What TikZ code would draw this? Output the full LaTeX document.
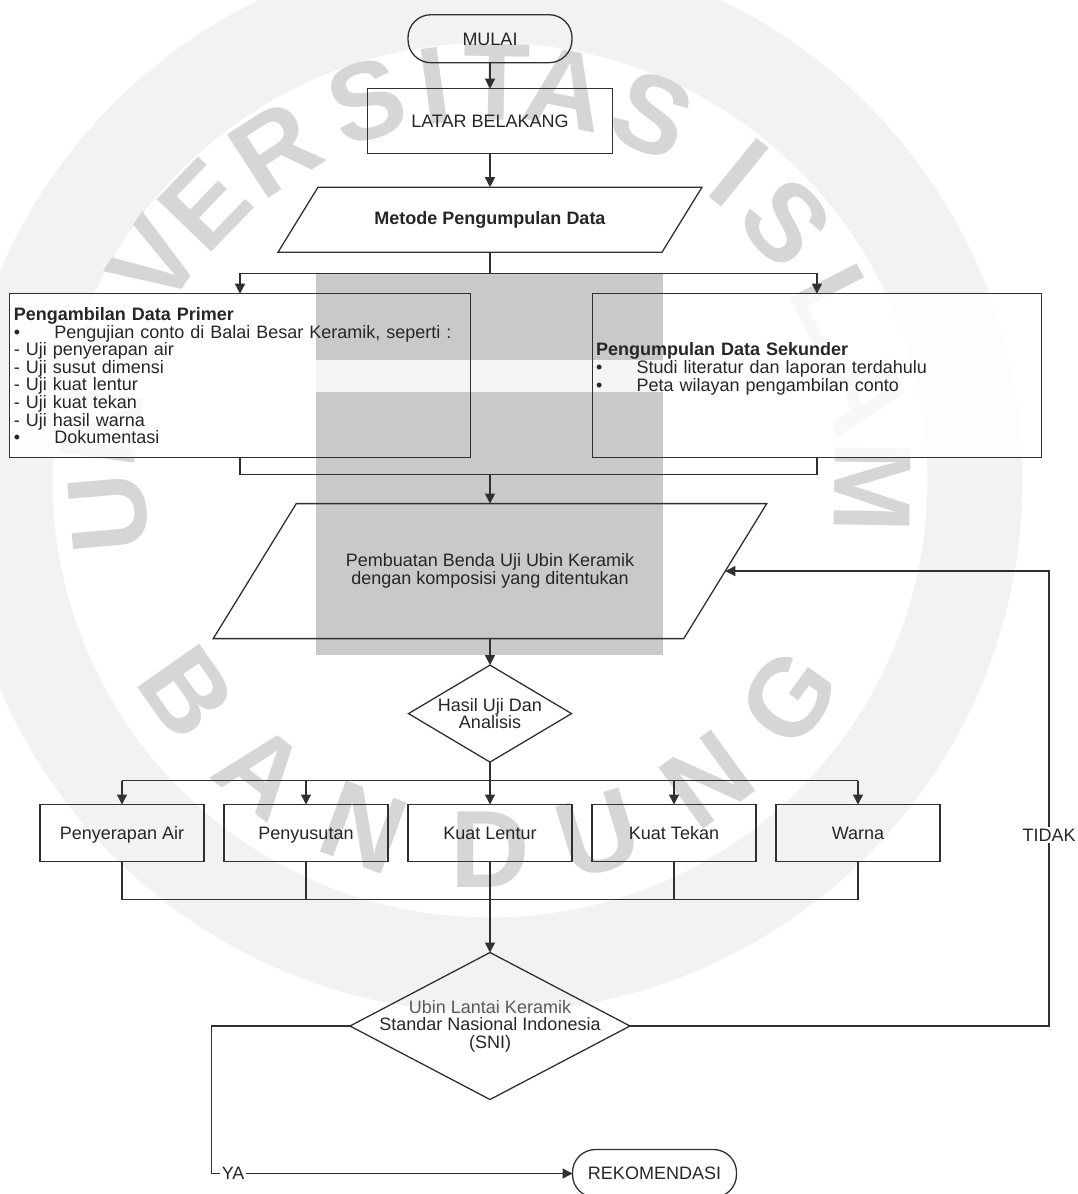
\documentclass[tikz,border=0pt]{standalone}
\usepackage{fontspec}
\setmainfont{Liberation Sans}
\usetikzlibrary{arrows.meta,positioning,shapes.geometric,backgrounds}

\definecolor{garis}{HTML}{303030}
\definecolor{tulisan}{HTML}{262626}
\definecolor{redup}{HTML}{5A5A5A}
\definecolor{blok}{HTML}{C9C9C9}
\definecolor{tanda}{HTML}{D6D6D6}
\definecolor{cincin}{HTML}{F2F2F2}

\begin{document}
\begin{tikzpicture}[
  x=1pt, y=-1pt,
  font=\fontsize{18}{17.6}\selectfont,
  text=tulisan,
  box/.style={draw=garis, line width=1.3pt, outer sep=0pt, align=center, minimum width=164pt, minimum height=57pt, text height=12.9pt, text depth=0pt},
  terminal/.style={draw=garis, line width=1.3pt, outer sep=0pt, rounded corners=23pt, minimum width=164pt, minimum height=48pt, text height=12.9pt, text depth=0pt},
  ioshape/.style={outer sep=0pt, align=center},
  decision/.style={draw=garis, line width=1.3pt, outer sep=0pt, diamond, inner sep=0pt},
  infobox/.style={draw=garis, line width=1.3pt, outer sep=0pt, align=left, minimum height=164pt, inner xsep=4pt},
  lbl/.style={fill=white, inner sep=1.5pt},
  wmark/.style={text=tanda, font=\fontsize{110}{110}\selectfont\bfseries},
  arrow/.style={-{Triangle[length=10pt,width=10pt]}, line width=1.3pt, draw=garis},
  conn/.style={line width=1.3pt, draw=garis}
]
\useasboundingbox (0,0) rectangle (1077,1194);

% alur utama
\node[terminal] (mulai) at (490,38.7) {MULAI};
\node[box, minimum width=245pt, minimum height=65pt, below=26pt of mulai] (latar) {LATAR BELAKANG};
\node[ioshape, minimum width=424pt, minimum height=65pt, below=33.5pt of latar] (metode) {\bfseries Metode Pengumpulan Data};
\draw[conn] ([xshift=40pt]metode.north west) -- (metode.north east) -- ([xshift=-40pt]metode.south east) -- (metode.south west) -- cycle;

\node[infobox, text width=452.4pt, below=41.5pt of metode, xshift=-250pt] (primer) {%
  {\bfseries Pengambilan Data Primer}\\
  \makebox[40.5pt][l]{\textbullet}Pengujian conto di Balai Besar Keramik, seperti :\\
  - Uji penyerapan air\\
  - Uji susut dimensi\\
  - Uji kuat lentur\\
  - Uji kuat tekan\\
  - Uji hasil warna\\
  \makebox[40.5pt][l]{\textbullet}Dokumentasi};
\node[infobox, text width=441.5pt, right=122pt of primer] (sekunder) {%
  {\bfseries Pengumpulan Data Sekunder}\\
  \makebox[40.5pt][l]{\textbullet}Studi literatur dan laporan terdahulu\\
  \makebox[40.5pt][l]{\textbullet}Peta wilayan pengambilan conto\\
  \mbox{}};

\node[ioshape, minimum width=553.5pt, minimum height=135pt, below=251.4pt of metode] (bahan) {Pembuatan Benda Uji Ubin Keramik\\dengan komposisi yang ditentukan};
\draw[conn] ([xshift=83pt]bahan.north west) -- (bahan.north east) -- ([xshift=-83pt]bahan.south east) -- (bahan.south west) -- cycle;
\node[decision, minimum width=163pt, minimum height=97pt, below=26.5pt of bahan,
  label={[align=center]center:Hasil Uji Dan\\Analisis}] (hasil) {};

% hasil pengujian
\node[box, below=42.4pt of hasil] (lentur) {Kuat Lentur};
\node[box, left=20pt of lentur] (susut) {Penyusutan};
\node[box, left=20pt of susut] (air) {Penyerapan Air};
\node[box, right=20pt of lentur] (tekan) {Kuat Tekan};
\node[box, right=20pt of tekan] (warna) {Warna};

\node[decision, minimum width=280pt, minimum height=147pt, below=91pt of lentur,
  label={[align=center]center:{\color{redup}Ubin Lantai Keramik}\\Standar Nasional Indonesia\\(SNI)}] (sni) {};
\node[terminal, below=50pt of sni, xshift=164.5pt] (reko) {REKOMENDASI};

% titik bantu
\coordinate[below=21pt of metode.south] (split);
\coordinate[below=16.5pt of primer.south] (mergeL);
\coordinate (gabung) at (metode |- mergeL);
\coordinate[below=18.4pt of hasil.south] (bagi);
\coordinate[below=38pt of lentur.south] (kumpul);
\coordinate[right=419pt of sni.east] (balik);
\coordinate[left=138.5pt of sni.west] (ya);

% panah
\draw[arrow] (mulai) -- (latar);
\draw[arrow] (latar) -- (metode);
\draw[conn] (metode.south) -- (split);
\draw[arrow] (split) -| (primer.north);
\draw[arrow] (split) -| (sekunder.north);
\draw[conn] (primer.south) -- (mergeL) -| (sekunder.south);
\draw[arrow] (gabung) -- (bahan.north);
\draw[arrow] (bahan) -- (hasil);
\draw[conn] (hasil.south) -- (bagi);
\draw[conn] (bagi -| air.north) -- (bagi -| warna.north);
\foreach \b in {air,susut,lentur,tekan,warna}
  \draw[arrow] (bagi -| \b.north) -- (\b.north);
\foreach \b in {air,susut,tekan,warna}
  \draw[conn] (\b.south) -- (\b.south |- kumpul);
\draw[conn] (kumpul -| air.south) -- (kumpul -| warna.south);
\draw[arrow] (lentur.south) -- (sni.north);
\draw[arrow] (sni.east) -- (balik) |- ([xshift=-41.5pt]bahan.east) node[lbl, pos=0.21] {TIDAK};
\draw[arrow] (sni.west) -- (ya) |- (reko.west) node[lbl, pos=0.53] {YA};

% tanda air
\begin{scope}[on background layer]
  \draw[cincin, line width=95pt] (490,480) circle (485);
  \begin{scope}[shift={(490,480)}, y=1pt]
    \foreach \ch/\ang/\rad [count=\i] in {U/185/383,N/172/392,I/160/396,V/147/400,E/136/396,R/123/394,S/108/398,I/98/398,T/89/398,A/79/398,S/66/400,I/51/396,S/41/392,L/27/388,A/13/385,M/-1/383}
      \node[wmark, rotate=\ang-90] (wmA\i) at (\ang:\rad) {\ch};
    \foreach \ch/\ang [count=\i] in {B/-145,A/-128,N/-110,D/-90,U/-73,N/-54,G/-36}
      \node[wmark, rotate=\ang+90] (wmB\i) at (\ang:370) {\ch};
  \end{scope}
  \fill[white, fill opacity=0.85] (primer.north west) rectangle (primer.south east);
  \fill[white, fill opacity=0.85] (sekunder.north west) rectangle (sekunder.south east);
  \fill[blok] (316,274) rectangle (663,360);
  \fill[blok!20] (316,360) rectangle (663,392);
  \fill[blok] (316,392) rectangle (663,655);
\end{scope}
\end{tikzpicture}
\end{document}
